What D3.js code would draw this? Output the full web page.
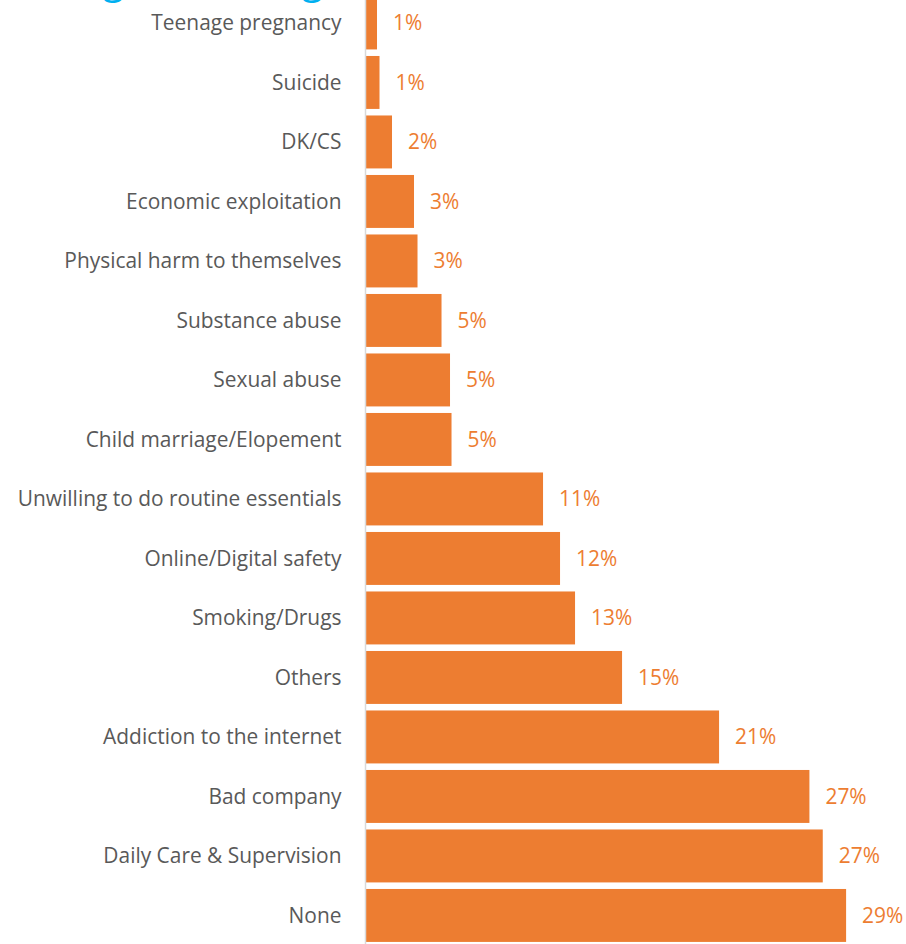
<!DOCTYPE html>
<html>
<head>
<meta charset="utf-8">
<script src="https://cdn.jsdelivr.net/npm/d3@7/dist/d3.min.js"></script>
<style>
  html, body { margin: 0; padding: 0; background: #ffffff; }
  svg { display: block; }
</style>
</head>
<body>
<svg id="chart" width="906" height="944"></svg>
<script>
// Concerns, listed top to bottom
const categories = [
  "Teenage pregnancy",
  "Suicide",
  "DK/CS",
  "Economic exploitation",
  "Physical harm to themselves",
  "Substance abuse",
  "Sexual abuse",
  "Child marriage/Elopement",
  "Unwilling to do routine essentials",
  "Online/Digital safety",
  "Smoking/Drugs",
  "Others",
  "Addiction to the internet",
  "Bad company",
  "Daily Care & Supervision",
  "None"
];

// Share of respondents (%)
const values = [0.66, 0.81, 1.56, 2.88, 3.09, 4.53, 5.04, 5.13, 10.62, 11.64, 12.54, 15.36, 21.18, 26.6, 27.4, 28.8];

const titleText = "Challenges facing children";

const svg = d3.select("#chart");
const W = 906, H = 944;
const x0 = 366;
const orange = "#ED7D31";
const font = "'Open Sans', 'Noto Sans', sans-serif";

const x = d3.scaleLinear().domain([0, 1]).range([x0, x0 + 16.67]);

const y = d3.scaleBand()
  .domain(categories)
  .range([-6.8, -6.8 + 59.5 * categories.length])
  .paddingInner(0.11)
  .paddingOuter(0.055);

// Title heading, running above the top edge
const title = svg.append("text")
  .attr("x", 0)
  .attr("y", -6)
  .attr("font-family", font)
  .attr("font-size", 38)
  .attr("fill", "#00B0F0")
  .text(titleText);

{
  const node = title.node();
  const gIdx = [];
  for (let i = 0; i < titleText.length; i++) if (titleText[i] === "g") gIdx.push(i);
  if (gIdx.length >= 2) {
    const p0 = node.getStartPositionOfChar(gIdx[0]).x;
    const p1 = node.getStartPositionOfChar(gIdx[1]).x;
    const ls = (199 - (p1 - p0)) / (gIdx[1] - gIdx[0]);
    title.attr("letter-spacing", ls);
    const q0 = node.getStartPositionOfChar(gIdx[0]).x;
    title.attr("x", 103 - q0);
  }
}

// Bars
svg.append("g")
  .selectAll("rect")
  .data(values)
  .join("rect")
  .attr("x", x(0))
  .attr("y", (d, i) => y(categories[i]))
  .attr("width", d => x(d) - x(0))
  .attr("height", y.bandwidth())
  .attr("fill", orange);

// Category axis
const axis = d3.axisLeft(y).tickSize(0).tickPadding(24);
const ag = svg.append("g")
  .attr("transform", `translate(${x0 - 0.5},0)`)
  .call(axis);
ag.select(".domain")
  .attr("d", `M0,0V${H}`)
  .attr("stroke", "#D9D9D9")
  .attr("stroke-width", 1.5);
const ticks = ag.selectAll(".tick text")
  .attr("font-family", font)
  .attr("font-size", 19)
  .attr("fill", "#595959")
  .attr("dy", "0.36em");

// Size the label font so the longest label spans its column
let widest = 0;
ticks.each(function () { widest = Math.max(widest, this.getComputedTextLength()); });
const labelSize = 19 * 324 / widest;
ticks.attr("font-size", labelSize);

// Value labels
svg.append("g")
  .selectAll("text")
  .data(values)
  .join("text")
  .attr("x", d => x(d) + 16)
  .attr("y", (d, i) => y(categories[i]) + y.bandwidth() / 2)
  .attr("dy", "0.36em")
  .attr("font-family", font)
  .attr("font-size", labelSize)
  .attr("fill", orange)
  .text(d => Math.round(d) + "%");
</script>
</body>
</html>
